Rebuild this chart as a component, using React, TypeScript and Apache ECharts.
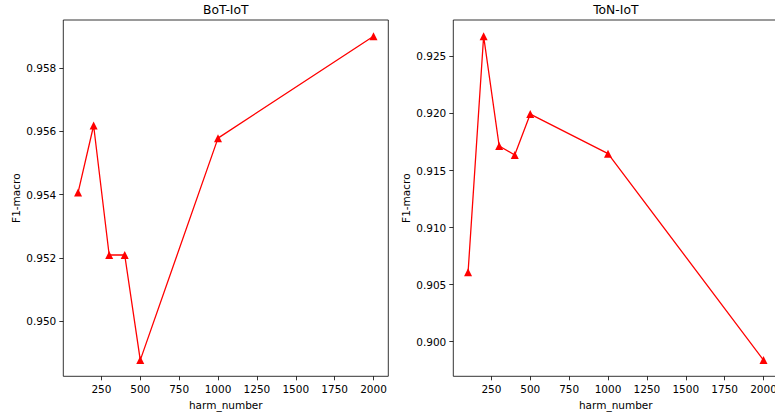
import React, { useEffect, useRef } from "react";
import * as echarts from "echarts";

const harmNumbers = [100, 200, 300, 400, 500, 1000, 2000];
const botF1 = [0.95406, 0.95618, 0.95209, 0.95209, 0.94877, 0.95578, 0.959];
const tonF1 = [0.90607, 0.92678, 0.91715, 0.91636, 0.91995, 0.91648, 0.89837];
const xTicks = [250, 500, 750, 1000, 1250, 1500, 1750, 2000];
const botYTicks = [0.95, 0.952, 0.954, 0.956, 0.958];
const tonYTicks = [0.9, 0.905, 0.91, 0.915, 0.92, 0.925];
const titles = ["BoT-IoT", "ToN-IoT"];

const FONT = "DejaVu Sans";

function padRange(vals: number[]) {
  const mn = Math.min(...vals);
  const mx = Math.max(...vals);
  const m = (mx - mn) * 0.05;
  return [mn - m, mx + m];
}

export default function App() {
  const ref = useRef<HTMLDivElement>(null);
  useEffect(() => {
    if (!ref.current) return;
    const chart = echarts.init(ref.current, null, { renderer: "svg" });
    const gridLefts = [63.3, 453.3];
    const gridW = 325;
    const gridTop = 20;
    const gridH = 356.3;
    const xr = padRange(harmNumbers);
    const yData = [botF1, tonF1];
    const yTicks = [botYTicks, tonYTicks];

    const grids = gridLefts.map((l) => ({
      left: l,
      top: gridTop,
      width: gridW,
      height: gridH,
      show: true,
      borderColor: "#000",
      borderWidth: 0.8,
      backgroundColor: "transparent",
    }));

    const xAxes = gridLefts.map((_, i) => ({
      type: "value",
      gridIndex: i,
      min: xr[0],
      max: xr[1],
      name: "harm_number",
      nameLocation: "middle",
      nameGap: 23,
      nameTextStyle: { fontFamily: FONT, fontSize: 10.5, color: "#000" },
      axisLine: { show: false },
      splitLine: { show: false },
      axisTick: {
        show: true,
        length: 4,
        customValues: xTicks,
        lineStyle: { color: "#000", width: 0.8 },
      },
      axisLabel: {
        customValues: xTicks,
        margin: 7,
        fontFamily: FONT,
        fontSize: 10.5,
        color: "#000",
        formatter: (v: number) => String(Math.round(v)),
      },
    }));

    const yAxes = gridLefts.map((_, i) => {
      const yr = padRange(yData[i]);
      return {
        type: "value",
        gridIndex: i,
        min: yr[0],
        max: yr[1],
        name: "F1-macro",
        nameLocation: "middle",
        nameGap: 42,
        nameTextStyle: { fontFamily: FONT, fontSize: 10.5, color: "#000" },
        axisLine: { show: false },
        splitLine: { show: false },
        axisTick: {
          show: true,
          length: 4,
          customValues: yTicks[i],
          lineStyle: { color: "#000", width: 0.8 },
        },
        axisLabel: {
          customValues: yTicks[i],
          margin: 7,
          fontFamily: FONT,
          fontSize: 10.5,
          color: "#000",
          formatter: (v: number) => v.toFixed(3),
        },
      };
    });

    const series = yData.map((ys, i) => ({
      type: "line",
      xAxisIndex: i,
      yAxisIndex: i,
      data: harmNumbers.map((x, j) => [x, ys[j]]),
      symbol: "triangle",
      symbolSize: 8,
      showSymbol: true,
      itemStyle: { color: "#ff0000" },
      lineStyle: { color: "#ff0000", width: 1.3 },
    }));

    const graphic = gridLefts.map((l, i) => ({
      type: "text",
      x: l + gridW / 2,
      y: 10,
      style: {
        text: titles[i],
        align: "center",
        verticalAlign: "middle",
        fontFamily: FONT,
        fontSize: 12.3,
        fontWeight: "normal",
        fill: "#000",
      },
    }));

    chart.setOption({
      animation: false,
      backgroundColor: "#fff",
      grid: grids,
      xAxis: xAxes,
      yAxis: yAxes,
      series,
      graphic,
    } as any);
    return () => chart.dispose();
  }, []);

  return (
    <div
      style={{
        position: "absolute",
        left: 0,
        top: 0,
        width: 775,
        height: 418,
        overflow: "hidden",
        background: "#fff",
      }}
    >
      <div ref={ref} style={{ width: 780, height: 418 }} />
    </div>
  );
}
